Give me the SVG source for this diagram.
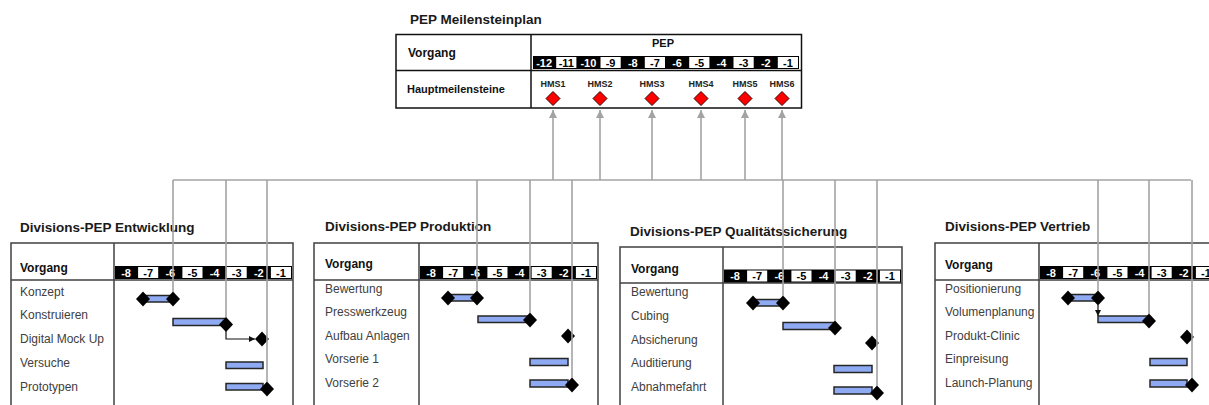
<svg xmlns="http://www.w3.org/2000/svg" width="1209" height="405" viewBox="0 0 1209 405">
  <defs>
    <style>
      text { font-family: "Liberation Sans", Arial, sans-serif; }
      .title { font-size: 13.5px; font-weight: bold; fill: #1a1a1a; }
      .head { font-size: 12px; font-weight: bold; fill: #111; }
      .row { font-size: 12px; fill: #404040; }
      .num { font-size: 11px; font-weight: bold; text-anchor: middle; }
      .nb { fill: #fff; }
      .nw { fill: #000; }
      .hms { font-size: 9px; font-weight: bold; text-anchor: middle; fill: #222; }
      .frame { fill: #fff; stroke: #404040; stroke-width: 1.5; }
      .rule { stroke: #404040; stroke-width: 1.5; fill: none; }
      .strip { fill: #000; }
      .cell { fill: #fff; }
      .bar { fill: #8eaaf2; stroke: #262626; stroke-width: 1.5; }
      .ms { fill: #000; }
      .hm { fill: #ff0000; stroke: #3a0000; stroke-width: 1; }
      .link { stroke: #a3a3a3; stroke-width: 1.6; fill: none; }
      .flow { stroke: #111; stroke-width: 1.2; fill: none; }
    </style>
    <marker id="upArrow" viewBox="0 0 10 10" refX="10" refY="5" markerWidth="5" markerHeight="5" markerUnits="strokeWidth" orient="auto">
      <path d="M0,0 L10,5 L0,10 z" fill="#a3a3a3"/>
    </marker>
    <marker id="blkArrow" viewBox="0 0 10 10" refX="10" refY="5" markerWidth="5" markerHeight="5" markerUnits="strokeWidth" orient="auto">
      <path d="M0,0 L10,5 L0,10 z" fill="#111"/>
    </marker>
    <path id="dia" d="M0,-7.5 L7,0 L0,7.5 L-7,0 z"/>
    <path id="rdia" d="M0,-7 L7,0 L0,7 L-7,0 z"/>
  </defs>

  <rect width="1209" height="405" fill="#fff"/>

  <!-- Master milestone plan -->
  <g id="pep-meilensteinplan">
    <text class="title" x="410" y="24">PEP Meilensteinplan</text>
    <rect x="396" y="34.5" width="405.5" height="73.5" fill="#fff" stroke="#111" stroke-width="1.5"/>
    <line x1="531" y1="34.5" x2="531" y2="108" stroke="#111" stroke-width="1.5"/>
    <line x1="396" y1="70.5" x2="801.5" y2="70.5" stroke="#111" stroke-width="1.5"/>
    <text class="head" x="408" y="57">Vorgang</text>
    <text class="head" x="407" y="93" style="font-size:11px">Hauptmeilensteine</text>
    <text class="head" x="663" y="47" text-anchor="middle" style="font-size:11px">PEP</text>
    <rect class="strip" x="533" y="56" width="266" height="13"/>
    <rect class="cell" x="556.2" y="57" width="20.2" height="11"/>
    <rect class="cell" x="600.5" y="57" width="20.2" height="11"/>
    <rect class="cell" x="644.8" y="57" width="20.2" height="11"/>
    <rect class="cell" x="689.2" y="57" width="20.2" height="11"/>
    <rect class="cell" x="733.5" y="57" width="20.2" height="11"/>
    <rect class="cell" x="777.8" y="57" width="20.2" height="11"/>
    <text class="num nb" x="544.1" y="66.5">-12</text>
    <text class="num nw" x="566.3" y="66.5">-11</text>
    <text class="num nb" x="588.4" y="66.5">-10</text>
    <text class="num nw" x="610.6" y="66.5">-9</text>
    <text class="num nb" x="632.8" y="66.5">-8</text>
    <text class="num nw" x="654.9" y="66.5">-7</text>
    <text class="num nb" x="677.1" y="66.5">-6</text>
    <text class="num nw" x="699.3" y="66.5">-5</text>
    <text class="num nb" x="721.4" y="66.5">-4</text>
    <text class="num nw" x="743.6" y="66.5">-3</text>
    <text class="num nb" x="765.8" y="66.5">-2</text>
    <text class="num nw" x="787.9" y="66.5">-1</text>
  </g>

  <g id="hms1"><text class="hms" x="553" y="87">HMS1</text><use href="#rdia" class="hm" x="553" y="98.5"/></g>
  <g id="hms2"><text class="hms" x="600" y="87">HMS2</text><use href="#rdia" class="hm" x="600" y="98.5"/></g>
  <g id="hms3"><text class="hms" x="652" y="87">HMS3</text><use href="#rdia" class="hm" x="652" y="98.5"/></g>
  <g id="hms4"><text class="hms" x="701" y="87">HMS4</text><use href="#rdia" class="hm" x="701" y="98.5"/></g>
  <g id="hms5"><text class="hms" x="745" y="87">HMS5</text><use href="#rdia" class="hm" x="745" y="98.5"/></g>
  <g id="hms6"><text class="hms" x="782" y="87">HMS6</text><use href="#rdia" class="hm" x="782" y="98.5"/></g>

  <!-- Division plan: Entwicklung -->
  <g id="div-entwicklung">
    <text class="title" x="20" y="231.5">Divisions-PEP Entwicklung</text>
    <rect class="frame" x="11" y="243" width="282" height="170"/>
    <line class="rule" x1="114" y1="243" x2="114" y2="413"/>
    <line class="rule" x1="11" y1="280" x2="293" y2="280"/>
    <text class="head" x="20" y="272">Vorgang</text>
    <rect class="strip" x="115" y="266" width="177" height="13"/>
    <rect class="cell" x="138.1" y="267" width="20.1" height="11"/>
    <rect class="cell" x="182.4" y="267" width="20.1" height="11"/>
    <rect class="cell" x="226.6" y="267" width="20.1" height="11"/>
    <rect class="cell" x="270.9" y="267" width="20.1" height="11"/>
    <text class="num nb" x="126.1" y="276.5">-8</text>
    <text class="num nw" x="148.2" y="276.5">-7</text>
    <text class="num nb" x="170.3" y="276.5">-6</text>
    <text class="num nw" x="192.4" y="276.5">-5</text>
    <text class="num nb" x="214.6" y="276.5">-4</text>
    <text class="num nw" x="236.7" y="276.5">-3</text>
    <text class="num nb" x="258.8" y="276.5">-2</text>
    <text class="num nw" x="280.9" y="276.5">-1</text>
    <text class="row" x="20" y="296">Konzept</text>
    <text class="row" x="20" y="319">Konstruieren</text>
    <text class="row" x="20" y="343">Digital Mock Up</text>
    <text class="row" x="20" y="367">Versuche</text>
    <text class="row" x="20" y="391">Prototypen</text>
    <rect class="bar" x="143" y="295.5" width="30" height="6.5"/>
    <use href="#dia" class="ms" x="143" y="299"/>
    <use href="#dia" class="ms" x="173" y="299"/>
    <rect class="bar" x="173" y="318.5" width="53" height="7"/>
    <use href="#dia" class="ms" x="226" y="324.5"/>
    <path class="flow" d="M226,331 V339 H255" marker-end="url(#blkArrow)"/>
    <use href="#dia" class="ms" x="262" y="339"/>
    <rect class="bar" x="226" y="362" width="37" height="6.5"/>
    <rect class="bar" x="226" y="383.5" width="37" height="6.5"/>
    <use href="#dia" class="ms" x="267" y="389"/>
  </g>

  <!-- Division plan: Produktion -->
  <g id="div-produktion">
    <text class="title" x="325" y="231">Divisions-PEP Produktion</text>
    <rect class="frame" x="314" y="243" width="284" height="170"/>
    <line class="rule" x1="419" y1="243" x2="419" y2="413"/>
    <line class="rule" x1="314" y1="280" x2="598" y2="280"/>
    <text class="head" x="325" y="268">Vorgang</text>
    <rect class="strip" x="420" y="266" width="177" height="13"/>
    <rect class="cell" x="443.1" y="267" width="20.1" height="11"/>
    <rect class="cell" x="487.4" y="267" width="20.1" height="11"/>
    <rect class="cell" x="531.6" y="267" width="20.1" height="11"/>
    <rect class="cell" x="575.9" y="267" width="20.1" height="11"/>
    <text class="num nb" x="431.1" y="276.5">-8</text>
    <text class="num nw" x="453.2" y="276.5">-7</text>
    <text class="num nb" x="475.3" y="276.5">-6</text>
    <text class="num nw" x="497.4" y="276.5">-5</text>
    <text class="num nb" x="519.6" y="276.5">-4</text>
    <text class="num nw" x="541.7" y="276.5">-3</text>
    <text class="num nb" x="563.8" y="276.5">-2</text>
    <text class="num nw" x="585.9" y="276.5">-1</text>
    <text class="row" x="325" y="293">Bewertung</text>
    <text class="row" x="325" y="316">Presswerkzeug</text>
    <text class="row" x="325" y="340">Aufbau Anlagen</text>
    <text class="row" x="325" y="363">Vorserie 1</text>
    <text class="row" x="325" y="387">Vorserie 2</text>
    <rect class="bar" x="448" y="294.5" width="29" height="6.5"/>
    <use href="#dia" class="ms" x="448" y="298"/>
    <use href="#dia" class="ms" x="477" y="298"/>
    <rect class="bar" x="478" y="316" width="52" height="6.5"/>
    <use href="#dia" class="ms" x="530" y="320"/>
    <use href="#dia" class="ms" x="568" y="336"/>
    <rect class="bar" x="530" y="358.5" width="38" height="7"/>
    <rect class="bar" x="530" y="380" width="38" height="7"/>
    <use href="#dia" class="ms" x="572" y="385"/>
  </g>

  <!-- Division plan: Qualitätssicherung -->
  <g id="div-qualitaetssicherung">
    <text class="title" x="630" y="236">Divisions-PEP Qualitätssicherung</text>
    <rect class="frame" x="620" y="247" width="282" height="166"/>
    <line class="rule" x1="723" y1="247" x2="723" y2="413"/>
    <line class="rule" x1="620" y1="283" x2="902" y2="283"/>
    <text class="head" x="631" y="273">Vorgang</text>
    <rect class="strip" x="724" y="269.5" width="177" height="13"/>
    <rect class="cell" x="747.1" y="270.5" width="20.1" height="11"/>
    <rect class="cell" x="791.4" y="270.5" width="20.1" height="11"/>
    <rect class="cell" x="835.6" y="270.5" width="20.1" height="11"/>
    <rect class="cell" x="879.9" y="270.5" width="20.1" height="11"/>
    <text class="num nb" x="735.1" y="280">-8</text>
    <text class="num nw" x="757.2" y="280">-7</text>
    <text class="num nb" x="779.3" y="280">-6</text>
    <text class="num nw" x="801.4" y="280">-5</text>
    <text class="num nb" x="823.6" y="280">-4</text>
    <text class="num nw" x="845.7" y="280">-3</text>
    <text class="num nb" x="867.8" y="280">-2</text>
    <text class="num nw" x="889.9" y="280">-1</text>
    <text class="row" x="631" y="296">Bewertung</text>
    <text class="row" x="631" y="320">Cubing</text>
    <text class="row" x="631" y="344">Absicherung</text>
    <text class="row" x="631" y="367">Auditierung</text>
    <text class="row" x="631" y="391">Abnahmefahrt</text>
    <rect class="bar" x="753" y="299.5" width="30" height="6.5"/>
    <use href="#dia" class="ms" x="753" y="303"/>
    <use href="#dia" class="ms" x="783" y="303"/>
    <rect class="bar" x="783" y="322.5" width="52" height="7"/>
    <use href="#dia" class="ms" x="835" y="328"/>
    <use href="#dia" class="ms" x="872" y="343"/>
    <rect class="bar" x="834" y="365.5" width="38" height="7"/>
    <rect class="bar" x="834" y="387" width="38" height="7"/>
    <use href="#dia" class="ms" x="877" y="393"/>
  </g>

  <!-- Division plan: Vertrieb -->
  <g id="div-vertrieb">
    <text class="title" x="945" y="231">Divisions-PEP Vertrieb</text>
    <rect class="frame" x="935" y="243" width="290" height="170"/>
    <line class="rule" x1="1039" y1="243" x2="1039" y2="413"/>
    <line class="rule" x1="935" y1="280" x2="1225" y2="280"/>
    <text class="head" x="945" y="269">Vorgang</text>
    <rect class="strip" x="1040" y="266" width="177" height="13"/>
    <rect class="cell" x="1063.1" y="267" width="20.1" height="11"/>
    <rect class="cell" x="1107.4" y="267" width="20.1" height="11"/>
    <rect class="cell" x="1151.6" y="267" width="20.1" height="11"/>
    <rect class="cell" x="1195.9" y="267" width="20.1" height="11"/>
    <text class="num nb" x="1051.1" y="276.5">-8</text>
    <text class="num nw" x="1073.2" y="276.5">-7</text>
    <text class="num nb" x="1095.3" y="276.5">-6</text>
    <text class="num nw" x="1117.4" y="276.5">-5</text>
    <text class="num nb" x="1139.6" y="276.5">-4</text>
    <text class="num nw" x="1161.7" y="276.5">-3</text>
    <text class="num nb" x="1183.8" y="276.5">-2</text>
    <text class="num nw" x="1205.9" y="276.5">-1</text>
    <text class="row" x="945" y="293">Positionierung</text>
    <text class="row" x="945" y="316">Volumenplanung</text>
    <text class="row" x="945" y="340">Produkt-Clinic</text>
    <text class="row" x="945" y="363">Einpreisung</text>
    <text class="row" x="945" y="387">Launch-Planung</text>
    <rect class="bar" x="1068" y="294.5" width="30" height="6.5"/>
    <use href="#dia" class="ms" x="1068" y="298"/>
    <use href="#dia" class="ms" x="1098" y="298"/>
    <path class="flow" d="M1098,305 V316" marker-end="url(#blkArrow)"/>
    <rect class="bar" x="1098" y="316" width="51" height="6.5"/>
    <use href="#dia" class="ms" x="1149" y="321"/>
    <use href="#dia" class="ms" x="1187" y="337"/>
    <rect class="bar" x="1150" y="358.5" width="37" height="7"/>
    <rect class="bar" x="1150" y="380" width="37" height="7"/>
    <use href="#dia" class="ms" x="1192" y="385"/>
  </g>

  <!-- Links from division milestones up to the master milestones -->
  <g id="connectors">
    <path class="link" d="M173,180 H1191"/>
    <path class="link" d="M553,180 V110" marker-end="url(#upArrow)"/>
    <path class="link" d="M600,180 V110" marker-end="url(#upArrow)"/>
    <path class="link" d="M652,180 V110" marker-end="url(#upArrow)"/>
    <path class="link" d="M701,180 V110" marker-end="url(#upArrow)"/>
    <path class="link" d="M745,180 V110" marker-end="url(#upArrow)"/>
    <path class="link" d="M782,180 V110" marker-end="url(#upArrow)"/>
    <path class="link" d="M173,180 V292"/>
    <path class="link" d="M226,180 V317"/>
    <path class="link" d="M267,180 V382"/>
    <path class="link" d="M477,180 V291"/>
    <path class="link" d="M530,180 V313"/>
    <path class="link" d="M572,180 V378"/>
    <path class="link" d="M783,180 V296"/>
    <path class="link" d="M835,180 V321"/>
    <path class="link" d="M877,180 V386"/>
    <path class="link" d="M1098,180 V291"/>
    <path class="link" d="M1149,180 V314"/>
    <path class="link" d="M1192,180 V378"/>
  </g>
</svg>
